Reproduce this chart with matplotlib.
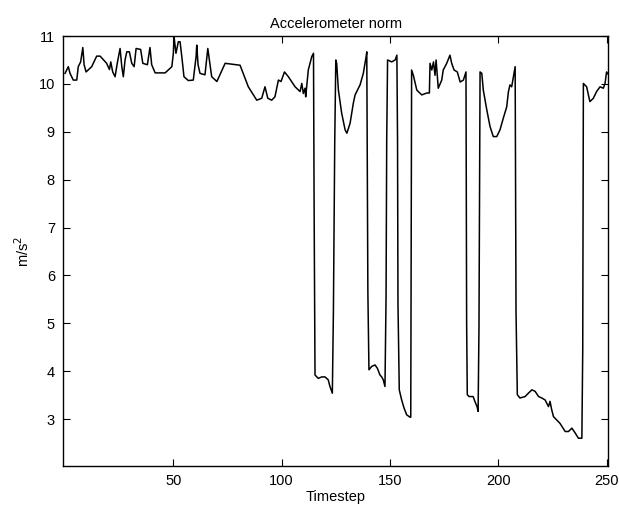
import matplotlib
matplotlib.use("Agg")
import matplotlib.pyplot as plt

timestep = [
    0, 1.5, 2.3, 3.8, 5.4, 6.1, 7.2, 8.2, 8.8, 9.7, 12.3, 14.6, 16.2, 19.2, 20.5, 21.1, 22.0, 23.1,
    24.1, 25.4, 26.2, 26.9, 27.7, 28.5, 29.7, 30.8, 31.9, 32.8, 34.9, 35.9, 38.0, 39.2, 40.0, 41.6,
    46.2, 49.3, 50.0, 50.3, 51.2, 52.3, 53.1, 53.9, 54.9, 56.9, 59.2, 60.5, 60.8, 61.4, 62.3, 64.6,
    65.9, 67.7, 70.1, 73.9, 80.8, 84.6, 88.5, 90.8, 92.3, 93.6, 95.4, 96.9, 98.5, 99.7, 101.3, 103.1,
    106.2, 108.5, 109.3, 110.0, 110.8, 111.1, 112.3, 113.9, 114.7,
    115.0, 115.4, 116.9, 118.5, 120.0, 121.5, 122.3, 123.4, 123.9, 124.5, 125.0, 125.4, 126.2, 127.7,
    129.3, 130.1, 131.6, 133.1, 133.9, 136.2, 137.7, 139.0, 139.3,
    139.8, 140.3, 141.6, 143.1, 144.2, 145.4, 146.2, 146.9, 147.7, 148.2, 148.5, 148.9, 150.8, 152.4, 153.2,
    153.5, 153.7, 154.3, 155.4, 156.5, 157.7, 159.2, 159.6,
    160.0, 160.8, 162.4, 164.7, 167.0, 168.2, 168.5, 169.3, 170.1, 170.8, 171.3, 172.3, 173.9, 174.6,
    176.2, 177.7, 178.5, 179.6, 181.1, 182.4, 183.9, 185.1,
    185.4, 185.7, 186.5, 188.4, 189.2, 190.2, 190.7, 191.1, 191.6, 192.4, 193.1, 194.7, 196.2, 197.7,
    199.3, 200.8, 202.3, 203.9, 204.7, 205.4, 206.2, 207.0, 207.8,
    208.2, 208.8, 210.0, 212.4, 213.9, 215.5, 217.0, 218.6, 220.1, 221.6, 223.2, 223.9, 224.7, 225.5,
    227.0, 228.5, 230.9, 232.4, 234.0, 235.5, 237.0, 238.6,
    239.0, 239.3, 240.8, 242.3, 243.9, 245.4, 247.0, 248.5, 249.3, 250.0, 250.8,
]
accel_norm = [
    10.22, 10.36, 10.22, 10.08, 10.08, 10.36, 10.46, 10.76, 10.40, 10.25, 10.36, 10.58, 10.58, 10.43, 10.30, 10.46, 10.25, 10.15,
    10.43, 10.74, 10.36, 10.15, 10.50, 10.67, 10.67, 10.43, 10.36, 10.74, 10.72, 10.43, 10.40, 10.76, 10.40, 10.23,
    10.23, 10.36, 10.64, 10.99, 10.64, 10.88, 10.88, 10.57, 10.15, 10.07, 10.08, 10.57, 10.81, 10.40, 10.22, 10.19,
    10.74, 10.15, 10.05, 10.43, 10.39, 9.94, 9.66, 9.70, 9.94, 9.70, 9.66, 9.73, 10.08, 10.05, 10.25, 10.15,
    9.94, 9.84, 10.01, 9.80, 9.91, 9.73, 10.29, 10.57, 10.64,
    7.30, 3.92, 3.85, 3.88, 3.88, 3.82, 3.68, 3.54, 5.28, 8.76, 10.50, 10.43, 9.87, 9.39,
    9.04, 8.97, 9.18, 9.60, 9.77, 9.98, 10.22, 10.57, 10.67,
    5.66, 4.03, 4.10, 4.13, 4.06, 3.92, 3.88, 3.82, 3.68, 5.56, 8.83, 10.50, 10.46, 10.50, 10.60,
    8.83, 5.42, 3.61, 3.40, 3.23, 3.09, 3.04, 3.04,
    10.29, 10.18, 9.87, 9.77, 9.81, 9.81, 10.43, 10.29, 10.46, 10.18, 10.50, 9.91, 10.08, 10.29,
    10.43, 10.60, 10.43, 10.29, 10.25, 10.04, 10.08, 10.25,
    5.00, 3.51, 3.47, 3.47, 3.37, 3.26, 3.16, 4.93, 10.25, 10.22, 9.87, 9.46, 9.11, 8.90,
    8.90, 9.04, 9.28, 9.52, 9.84, 9.98, 9.94, 10.15, 10.36,
    5.24, 3.51, 3.44, 3.47, 3.54, 3.61, 3.58, 3.47, 3.44, 3.40, 3.26, 3.37, 3.19, 3.05,
    2.98, 2.91, 2.74, 2.74, 2.81, 2.71, 2.60, 2.60,
    4.44, 10.01, 9.94, 9.63, 9.70, 9.84, 9.94, 9.91, 10.01, 10.25, 10.20,
]
x_ticks = [50, 100, 150, 200, 250]
y_ticks = [3, 4, 5, 6, 7, 8, 9, 10, 11]

plt.rcParams['font.family'] = ['Liberation Sans', 'DejaVu Sans']

fig = plt.figure(figsize=(6.19, 5.11), dpi=100)
ax = fig.add_axes([0.1023, 0.0881, 0.8804, 0.8414])
ax.plot(timestep, accel_norm, color='black', linewidth=1.1)
ax.set_xlim(-0.8, 250.8)
ax.set_ylim(2.02, 11)
ax.set_xticks(x_ticks)
ax.set_yticks(y_ticks)
ax.tick_params(direction='in', top=True, right=True, length=5, width=0.8, labelsize=10.5, pad=6)
for s in ax.spines.values():
    s.set_linewidth(1.0)
ax.set_title('Accelerometer norm', fontsize=10.5, pad=6)
ax.set_xlabel('Timestep', fontsize=10.5, labelpad=1)
ax.set_ylabel('m/s$^2$', fontsize=10.5, labelpad=5)
fig.savefig('out.png', dpi=100)
